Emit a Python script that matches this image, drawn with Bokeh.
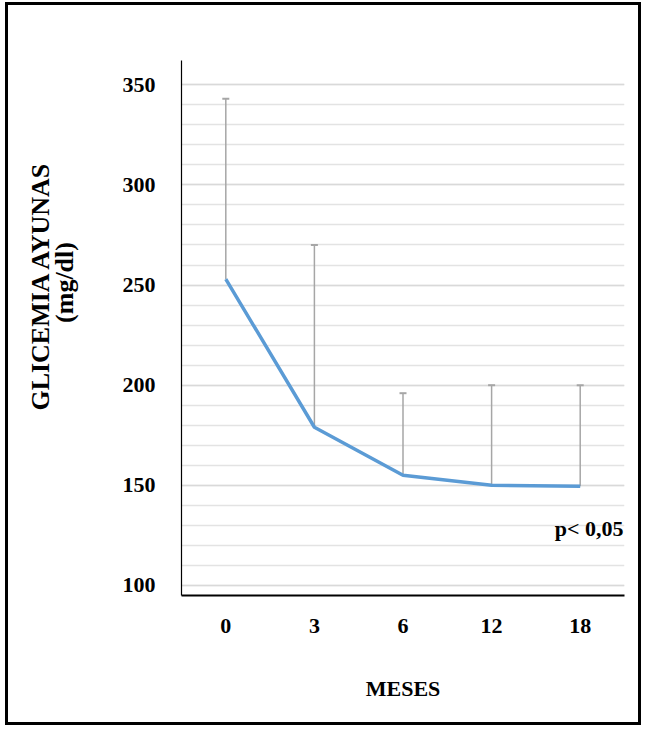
from bokeh.plotting import figure
from bokeh.models import FixedTicker, Whisker, ColumnDataSource, Label, TeeHead
from bokeh.embed import file_html
from bokeh.resources import INLINE

months = ["0", "3", "6", "12", "18"]
glucose_mean = [253, 179, 155, 150, 149.5]
glucose_upper = [343, 270, 196, 200, 200]
major_ticks = [100, 150, 200, 250, 300, 350]
minor_ticks = list(range(100, 351, 10))

src = ColumnDataSource(dict(x=months, mean=glucose_mean, upper=glucose_upper))

p = figure(x_range=months, y_range=(95, 362.1), width=636, height=723,
           output_backend="svg", toolbar_location=None,
           min_border_left=173, min_border_right=20, min_border_top=55, min_border_bottom=133,
           styles={"border": "3px solid black", "margin-left": "5px", "margin-top": "2px"})

p.outline_line_color = None
p.background_fill_color = "white"

p.yaxis.ticker = FixedTicker(ticks=major_ticks, minor_ticks=minor_ticks)
p.ygrid.grid_line_color = "#d9d9d9"
p.ygrid.grid_line_width = 1.5
p.ygrid.minor_grid_line_color = "#e3e3e3"
p.ygrid.minor_grid_line_width = 1.5
p.xgrid.grid_line_color = None

font = "Liberation Serif"
for ax in (p.xaxis, p.yaxis):
    ax.major_tick_line_color = None
    ax.minor_tick_line_color = None
    ax.major_label_text_font = font
    ax.major_label_text_font_style = "bold"
    ax.major_label_text_font_size = "22px"
    ax.major_label_text_color = "black"
    ax.axis_label_text_font = font
    ax.axis_label_text_font_style = "bold"
    ax.axis_label_text_color = "black"
    ax.axis_line_color = "black"

p.yaxis.axis_line_width = 1.2
p.xaxis.axis_line_width = 2
p.yaxis.major_label_standoff = 20
p.xaxis.major_label_standoff = 17
p.xaxis.axis_label = "MESES"
p.xaxis.axis_label_text_font_size = "22px"
p.xaxis.axis_label_standoff = 40

pad1 = "\u00a0" * 14
pad2 = "\u00a0" * 14
p.yaxis.axis_label = pad1 + "GLICEMIA  AYUNAS\n" + pad2 + "(mg/dl)"
p.yaxis.axis_label_text_font_size = "26px"
p.yaxis.axis_label_text_line_height = 0.8
p.yaxis.axis_label_standoff = 41

w = Whisker(base="x", lower="mean", upper="upper", source=src,
            line_color="#a6a6a6", line_width=1.5,
            lower_head=None,
            upper_head=TeeHead(size=7, line_color="#a6a6a6", line_width=2))
p.add_layout(w)

p.line("x", "mean", source=src, line_color="#5b9bd5", line_width=3.5)

p.add_layout(Label(x=4.99, y=128.5, text="p< 0,05", text_align="right",
                   text_baseline="middle", text_font=font, text_font_style="bold",
                   text_font_size="22px", text_color="black"))

open("out.html", "w").write(file_html(p, INLINE))
